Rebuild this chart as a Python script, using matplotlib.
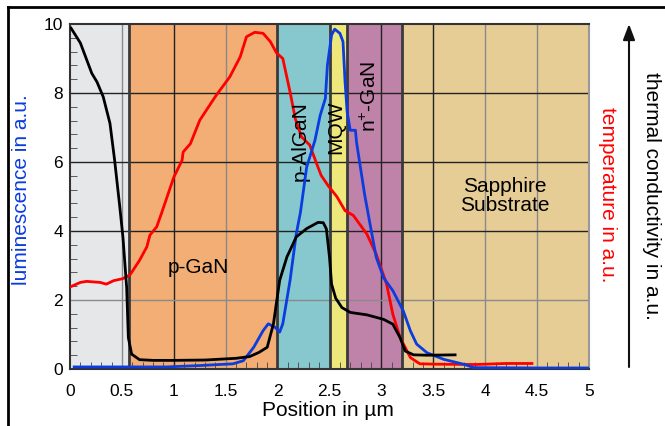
import matplotlib
matplotlib.use("Agg")
import matplotlib.pyplot as plt
from matplotlib.lines import Line2D
from matplotlib.patches import FancyArrowPatch
import numpy as np

plt.rcParams['font.family'] = ['Liberation Sans', 'DejaVu Sans']
plt.rcParams['mathtext.fontset'] = 'custom'
plt.rcParams['mathtext.rm'] = 'Liberation Sans'

# thermal conductivity (black)
cond_x = [0.01, 0.10, 0.21, 0.26, 0.32, 0.385, 0.43, 0.48, 0.51, 0.546, 0.562, 0.594, 0.67, 0.8,
          1.0, 1.3, 1.6, 1.73, 1.82, 1.9, 1.96, 2.02, 2.09, 2.18, 2.28, 2.39, 2.44, 2.47, 2.50,
          2.52, 2.56, 2.62, 2.70, 2.86, 3.02, 3.11, 3.18, 3.23, 3.31, 3.44, 3.71]
cond_y = [9.88, 9.45, 8.57, 8.32, 7.89, 7.12, 6.05, 4.69, 3.82, 2.36, 0.91, 0.43, 0.27, 0.25,
          0.25, 0.26, 0.31, 0.36, 0.48, 0.63, 1.31, 2.57, 3.25, 3.83, 4.07, 4.25, 4.24, 4.06, 3.24,
          2.46, 2.05, 1.78, 1.64, 1.57, 1.44, 1.30, 0.91, 0.52, 0.41, 0.40, 0.41]

# temperature (red)
temp_x = [0.01, 0.10, 0.16, 0.29, 0.35, 0.42, 0.51, 0.578, 0.67, 0.74, 0.77, 0.835, 0.88, 1.0,
          1.08, 1.09, 1.16, 1.25, 1.41, 1.54, 1.64, 1.70, 1.78, 1.86, 1.93, 1.99, 2.05, 2.12,
          2.17, 2.23, 2.31, 2.37, 2.42, 2.49, 2.57, 2.65, 2.73, 2.86, 2.95, 3.05, 3.11, 3.18,
          3.28, 3.37, 3.53, 3.9, 4.2, 4.45]
temp_y = [2.39, 2.51, 2.54, 2.51, 2.46, 2.56, 2.62, 2.73, 3.15, 3.54, 3.88, 4.12, 4.5, 5.56,
          6.05, 6.29, 6.53, 7.21, 7.94, 8.47, 9.05, 9.63, 9.76, 9.73, 9.49, 9.16, 9.0, 8.03,
          7.26, 6.73, 6.49, 6.0, 5.61, 5.3, 5.0, 4.59, 4.45, 3.91, 3.33, 2.46, 1.59, 0.91,
          0.33, 0.15, 0.14, 0.13, 0.16, 0.16]

# luminescence (blue)
lum_x = [0.04, 0.5, 0.93, 1.25, 1.57, 1.67, 1.77, 1.86, 1.91, 1.975, 2.02, 2.05, 2.12, 2.18,
         2.22, 2.28, 2.36, 2.41, 2.46, 2.48, 2.52, 2.55, 2.60, 2.63, 2.65, 2.67, 2.70, 2.75,
         2.76, 2.81, 2.84, 2.89, 2.95, 3.02, 3.11, 3.21, 3.28, 3.34, 3.44, 3.60, 3.79, 3.89,
         4.5, 4.99]
lum_y = [0.06, 0.06, 0.06, 0.1, 0.15, 0.24, 0.63, 1.11, 1.31, 1.21, 1.07, 1.31, 2.57, 3.92,
         4.54, 5.85, 6.63, 7.35, 7.84, 8.81, 9.68, 9.85, 9.73, 9.49, 8.32, 7.45, 6.92, 6.92,
         6.58, 5.61, 5.03, 4.21, 3.24, 2.65, 2.27, 1.69, 1.10, 0.72, 0.47, 0.28, 0.14, 0.04,
         0.03, 0.03]

# layers
layer_edges = [0, 0.57, 1.99, 2.50, 2.67, 3.20, 5.0]
layer_colors = ['#e6e7e9', '#f2ae74', '#86c8ce', '#ede77c', '#bf82a8', '#e6cd96']

fig = plt.figure(figsize=(6.65, 4.26), dpi=100)
ax = fig.add_axes([70 / 665, 1 - 369 / 426, 519 / 665, 345 / 426])

for i, c in enumerate(layer_colors):
    ax.axvspan(layer_edges[i], layer_edges[i + 1], color=c, lw=0, zorder=0)

# grid
for xv, c in [(0.5, '#8a8a8a'), (1.0, '#222222'), (1.5, '#8a8a8a'), (3.0, '#222222'),
              (3.5, '#222222'), (4.0, '#8a8a8a'), (4.5, '#8a8a8a')]:
    ax.axvline(xv, color=c, lw=1, zorder=1)
for yv, c in [(2, '#8a8a8a'), (4, '#222222'), (6, '#222222'), (8, '#222222')]:
    ax.axhline(yv, color=c, lw=1, zorder=1)
for xv in layer_edges[1:-1]:
    ax.axvline(xv, color='#3a3a3a', lw=2, zorder=2)

ax.plot(temp_x, temp_y, color='#ff0000', lw=2, zorder=3)
ax.plot(lum_x, lum_y, color='#0a3ce0', lw=2, zorder=4)
ax.plot(cond_x, cond_y, color='black', lw=2, zorder=5)

ax.set_xlim(0, 5)
ax.set_ylim(0, 10)
ax.set_xticks(np.arange(0, 5.01, 0.5))
ax.set_xticklabels(['0', '0.5', '1', '1.5', '2', '2.5', '3', '3.5', '4', '4.5', '5'])
ax.set_yticks([0, 2, 4, 6, 8, 10])
ax.set_xticks(np.arange(0, 5.01, 0.1), minor=True)
ax.set_yticks(np.arange(0, 10.01, 0.4), minor=True)
ax.tick_params(which='major', length=0, labelsize=12.5)
ax.tick_params(axis='x', which='major', pad=11)
ax.tick_params(axis='y', which='major', pad=5)
ax.tick_params(which='minor', direction='in', length=5, color='#444444')
for s in ax.spines.values():
    s.set_color('#333333')
    s.set_linewidth(1.5)
ax.spines['right'].set_color('#999999')

ax.text(1.24, 2.95, 'p-GaN', fontsize=15, ha='center', va='center')
ax.text(2.22, 6.6, 'p-AlGaN', fontsize=15, rotation=90, ha='center', va='center')
ax.text(2.565, 7.0, 'MQW', fontsize=15, rotation=90, ha='center', va='center')
ax.text(2.89, 7.9, r'n$^{+}$-GaN', fontsize=15, rotation=90, ha='center', va='center')
ax.text(4.19, 5.0, 'Sapphire\nSubstrate', fontsize=15, ha='center', va='center',
        linespacing=1.0)

fig.text(328 / 665, 1 - 410 / 426, 'Position in µm', fontsize=15, ha='center', va='center')
fig.text(22 / 665, 1 - 190 / 426, 'luminescence in a.u.', fontsize=15, rotation=90,
         color='#0a3ce0', ha='center', va='center')
fig.text(608 / 665, 1 - 195 / 426, 'temperature in a.u.', fontsize=15, rotation=-90,
         color='#ff0000', ha='center', va='center')
fig.text(652 / 665, 1 - 196 / 426, 'thermal conductivity in a.u.', fontsize=15, rotation=-90,
         color='black', ha='center', va='center')

fig.add_artist(FancyArrowPatch(
    (629 / 665, 1 - 367 / 426), (629 / 665, 1 - 24 / 426), transform=fig.transFigure,
    arrowstyle='-|>,head_length=0.95,head_width=0.36', mutation_scale=10,
    color='#111111', lw=1.5, shrinkA=0, shrinkB=0))

# outer frame
fig.add_artist(Line2D([8 / 665, 8 / 665], [0, 1 - 7 / 426], color='black', lw=2))
fig.add_artist(Line2D([8 / 665, 1], [1 - 7 / 426, 1 - 7 / 426], color='black', lw=2))

fig.savefig('out.png', dpi=100)
